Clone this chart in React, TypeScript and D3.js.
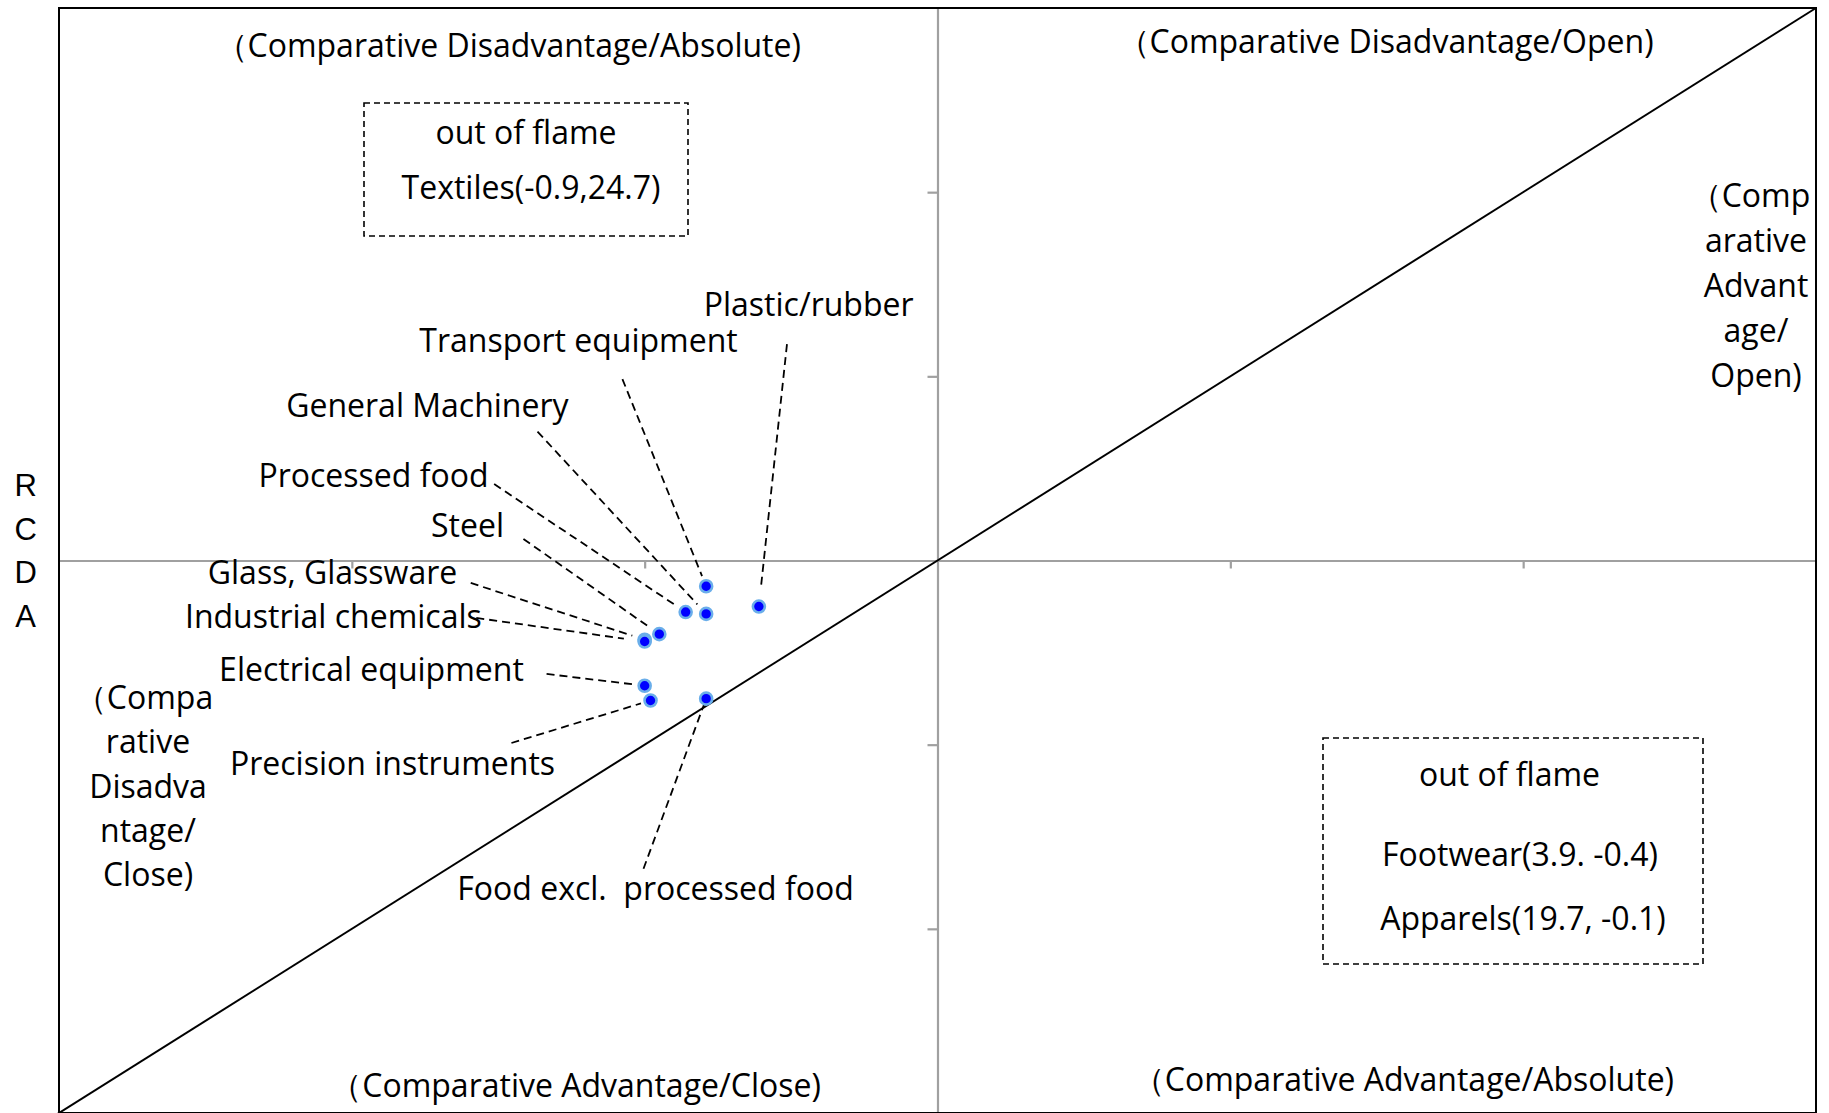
import React, { useEffect, useRef } from 'react'
import * as d3 from 'd3'

// industries plotted (RCA-ish on x, RCDA on y)
const categories = [
  'Plastic/rubber',
  'Transport equipment',
  'General Machinery',
  'Processed food',
  'Steel',
  'Glass, Glassware',
  'Industrial chemicals',
  'Electrical equipment',
  'Precision instruments',
  'Food excl.  processed food',
]
const xValues = [-0.61, -0.79, -0.79, -0.86, -0.95, -1.0, -1.0, -1.0, -0.98, -0.79]
const yValues = [-0.25, -0.14, -0.29, -0.28, -0.40, -0.43, -0.44, -0.68, -0.76, -0.75]

// where each label sits and where its leader starts, in data units
const labelAt = [[-0.44, 1.39], [-1.226, 1.194], [-1.742, 0.839], [-1.926, 0.459], [-1.605, 0.187],
  [-2.066, -0.068], [-2.063, -0.307], [-1.933, -0.592], [-1.861, -1.105], [-0.963, -1.783]]
const leaderFrom = [[-0.514, 1.175], [-1.076, 0.985], [-1.366, 0.7], [-1.514, 0.415], [-1.414, 0.117],
  [-1.594, -0.122], [-1.575, -0.312], [-1.335, -0.616], [-1.455, -0.991], [-1.004, -1.674]]
const leaderGap = [22, 11, 13, 14, 10, 13, 21, 11, 10, 0]

const domain = [-3, 3]
const tickValues = [-2, -1, 1, 2]

const quadrantLabels = [
  { text: '（Comparative Disadvantage/Absolute)', at: [-1.466, 2.796] },
  { text: '（Comparative Disadvantage/Open)', at: [1.53, 2.815] },
  { text: '（Comparative Advantage/Close)', at: [-1.236, -2.852] },
  { text: '（Comparative Advantage/Absolute)', at: [1.591, -2.819] },
]
const rightNote = ['（Comp', 'arative', 'Advant', 'age/', 'Open)']
const leftNote = ['（Compa', 'rative', 'Disadva', 'ntage/', 'Close)']
const yTitle = ['R', 'C', 'D', 'A']

const outBox1 = ['out of flame', 'Textiles(-0.9,24.7)']
const outBox2 = ['out of flame', 'Footwear(3.9. -0.4)', 'Apparels(19.7, -0.1)']

const W = 1829
const H = 1113
const FONT = '"Open Sans", sans-serif'
const FS = 32

export default function App() {
  const xAxisRef = useRef(null)
  const yAxisRef = useRef(null)

  const x = d3.scaleLinear().domain(domain).range([59, 1816])
  const y = d3.scaleLinear().domain(domain).range([1113, 8])

  useEffect(() => {
    const gx = d3.select(xAxisRef.current)
    gx.call(d3.axisBottom(x).tickValues(tickValues).tickSize(8).tickSizeOuter(0).tickFormat(() => ''))
    gx.selectAll('path, line').attr('stroke', '#a0a0a0').attr('stroke-width', 2.2)

    const gy = d3.select(yAxisRef.current)
    gy.call(d3.axisLeft(y).tickValues(tickValues).tickSize(10).tickSizeOuter(0).tickFormat(() => ''))
    gy.selectAll('path, line').attr('stroke', '#a0a0a0').attr('stroke-width', 2.2)
  }, [])

  const diag = d3.line()([[x(-3.03), y(-3.03)], [x(3), y(3)]])

  const leaders = categories.map((c, i) => {
    const sx = x(leaderFrom[i][0]), sy = y(leaderFrom[i][1])
    const px = x(xValues[i]), py = y(yValues[i])
    const d = Math.hypot(px - sx, py - sy)
    const t = (d - leaderGap[i]) / d
    return [sx, sy, sx + (px - sx) * t, sy + (py - sy) * t]
  })

  return (
    <svg width={W} height={H} style={{ position: 'absolute', left: 0, top: 0, background: '#fff' }}
      fontFamily={FONT} fontSize={FS}>
      <rect x={0} y={0} width={W} height={H} fill="#fff" />

      <g ref={xAxisRef} transform={`translate(0,${y(0)})`} />
      <g ref={yAxisRef} transform={`translate(${x(0)},0)`} />

      {/* frame */}
      <rect x={x(-3)} y={y(3)} width={x(3) - x(-3)} height={y(-3) - y(3)} fill="none" stroke="#000" strokeWidth={2} />

      <path d={diag} stroke="#000" strokeWidth={2} fill="none" />

      {quadrantLabels.map(q => (
        <text key={q.text} x={x(q.at[0])} y={y(q.at[1])} dy="0.35em" textAnchor="middle">{q.text}</text>
      ))}

      {rightNote.map((t, i) => (
        <text key={'r' + i} x={i === 0 ? 1750 : 1756} y={196 + i * 44.9} dy="0.35em" textAnchor="middle">{t}</text>
      ))}
      {leftNote.map((t, i) => (
        <text key={'l' + i} x={i === 0 ? 144 : 148} y={697.6 + i * 44.4} dy="0.35em" textAnchor="middle">{t}</text>
      ))}
      {yTitle.map((t, i) => (
        <text key={'y' + i} x={25.7} y={485 + i * 43.7} dy="0.35em" textAnchor="middle"
          fontFamily='"Liberation Sans", Arial, sans-serif' fontSize={31}>{t}</text>
      ))}

      {/* out-of-frame notes */}
      <rect x={364} y={103} width={324} height={133} fill="none" stroke="#000" strokeWidth={1.6} strokeDasharray="6,4" />
      {outBox1.map((t, i) => (
        <text key={'o1' + i} x={i ? 531 : 526} y={[133, 188][i]} dy="0.35em" textAnchor="middle">{t}</text>
      ))}
      <rect x={1323} y={738} width={380} height={226} fill="none" stroke="#000" strokeWidth={1.6} strokeDasharray="6,4" />
      {outBox2.map((t, i) => (
        <text key={'o2' + i} x={[1509.5, 1520, 1523][i]} y={[774.6, 855, 919][i]} dy="0.35em" textAnchor="middle">{t}</text>
      ))}

      {leaders.map((l, i) => (
        <line key={'ld' + i} x1={l[0]} y1={l[1]} x2={l[2]} y2={l[3]} stroke="#000" strokeWidth={1.8} strokeDasharray="8,5" />
      ))}

      {categories.map((c, i) => (
        <circle key={c} cx={x(xValues[i])} cy={y(yValues[i])} r={6} fill="#0000ff" stroke="#6aaeea" strokeWidth={2.6} />
      ))}

      {categories.map((c, i) => (
        <text key={'t' + i} x={x(labelAt[i][0])} y={y(labelAt[i][1])} dy="0.35em" textAnchor="middle"
          style={{ whiteSpace: 'pre' }}>{c}</text>
      ))}
    </svg>
  )
}
